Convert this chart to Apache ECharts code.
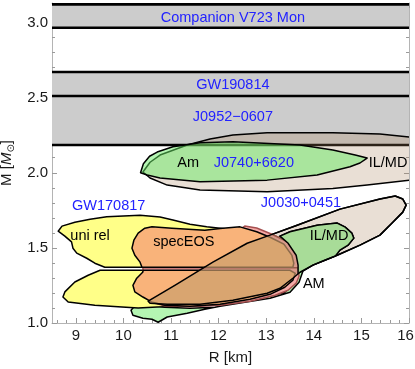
<!DOCTYPE html>
<html><head><meta charset="utf-8">
<script src="https://cdn.jsdelivr.net/npm/echarts@6/dist/echarts.min.js"></script>
<style>html,body{margin:0;padding:0;background:#fff}#c{width:415px;height:369px}</style>
</head><body><div id="c"></div>
<script>
// ---- axes ----
const xRange = [8.5, 16];
const yRange = [1.0, 3.13];
const xTicks = [9, 10, 11, 12, 13, 14, 15, 16];
const yTicks = [1.0, 1.5, 2.0, 2.5, 3.0];
const xMinorTicks = [8.6, 8.8, 9.2, 9.4, 9.6, 9.8, 10.2, 10.4, 10.6, 10.8, 11.2, 11.4, 11.6, 11.8, 12.2, 12.4, 12.6, 12.8, 13.2, 13.4, 13.6, 13.8, 14.2, 14.4, 14.6, 14.8, 15.2, 15.4, 15.6, 15.8];
const yMinorTicks = [1.1, 1.2, 1.3, 1.4, 1.6, 1.7, 1.8, 1.9, 2.1, 2.2, 2.3, 2.4, 2.6, 2.7, 2.8, 2.9, 3.1];

// ---- horizontal mass bands [low, high] ----
const bandCompanion = [2.965, 3.121];
const bandGW190814 = [2.511, 2.671];
const bandJ0952 = [2.185, 2.521];

// ---- contours [R, M] ----
const j0740ILMD = [[10.41,2.005],[10.56,2.07],[10.77,2.118],[11.34,2.185],[11.82,2.225],[12.30,2.251],[13.02,2.267],[14.40,2.267],[15.39,2.258],[16.02,2.238],[16.3,2.22],[16.3,1.95],[16.02,1.951],[15.12,1.918],[14.40,1.896],[13.02,1.873],[11.61,1.885],[10.92,1.918],[10.56,1.965]];
const j0740Am = [[10.36,2.0],[10.42,2.06],[10.55,2.11],[10.71,2.138],[11.04,2.173],[11.61,2.20],[12.30,2.207],[13.71,2.185],[14.40,2.151],[14.87,2.118],[15.12,2.098],[14.97,2.065],[14.76,2.04],[14.07,1.985],[13.02,1.951],[11.61,1.94],[10.77,1.965],[10.50,1.985]];
const gwUniRelHeavy = [[8.63,1.611],[8.71,1.645],[8.98,1.671],[9.30,1.691],[9.65,1.707],[10.35,1.718],[10.77,1.705],[11.04,1.685],[11.40,1.658],[11.75,1.64],[12.03,1.631],[12.45,1.618],[12.76,1.591],[12.91,1.518],[12.91,1.371],[9.61,1.371],[9.40,1.398],[9.23,1.431],[9.02,1.465],[8.94,1.498],[8.91,1.54],[8.77,1.578]];
const gwUniRelLight = [[9.51,1.351],[12.91,1.351],[13.12,1.298],[13.08,1.218],[12.66,1.165],[12.03,1.131],[11.40,1.111],[10.71,1.107],[10.31,1.10],[9.97,1.107],[9.40,1.118],[8.84,1.14],[8.73,1.173],[8.77,1.207],[8.98,1.273],[9.26,1.318]];
const gwRedHeavy = [[10.5,1.368],[10.5,1.58],[12.30,1.59],[12.55,1.645],[12.80,1.632],[13.12,1.591],[13.46,1.538],[13.65,1.451],[13.69,1.368]];
const gwRedLight = [[10.41,1.368],[13.67,1.368],[13.69,1.311],[13.63,1.265],[13.46,1.218],[13.19,1.185],[12.66,1.145],[12.03,1.118],[11.40,1.108],[10.87,1.115],[10.56,1.14],[10.45,1.2],[10.41,1.3]];
const gwSpecHeavy = [[10.39,1.371],[10.35,1.405],[10.24,1.451],[10.18,1.498],[10.22,1.551],[10.31,1.598],[10.45,1.631],[10.60,1.64],[11.02,1.631],[11.71,1.618],[12.03,1.629],[12.45,1.64],[12.80,1.607],[13.08,1.571],[13.37,1.525],[13.54,1.451],[13.58,1.398],[13.56,1.371]];
const gwSpecLight = [[10.41,1.351],[13.50,1.351],[13.61,1.331],[13.56,1.285],[13.39,1.238],[13.08,1.191],[12.66,1.158],[12.03,1.125],[11.40,1.111],[10.87,1.118],[10.59,1.14],[10.41,1.173],[10.24,1.207],[10.20,1.251],[10.28,1.298],[10.41,1.34]];
const j0030AM = [[13.29,1.578],[13.50,1.607],[14.07,1.651],[14.49,1.665],[14.66,1.638],[14.80,1.598],[14.84,1.565],[14.72,1.518],[14.55,1.485],[14.45,1.445],[14.23,1.418],[13.98,1.385],[13.77,1.345],[13.69,1.271],[13.50,1.205],[13.08,1.165],[12.55,1.138],[12.03,1.111],[11.71,1.091],[11.34,1.065],[10.92,1.04],[10.73,1.005],[10.60,1.025],[10.41,1.031],[10.20,1.051],[10.16,1.085],[10.29,1.131],[10.56,1.125],[10.87,1.105],[11.40,1.098],[11.92,1.105],[12.45,1.138],[12.97,1.171],[13.39,1.205],[13.58,1.258],[13.67,1.325],[13.67,1.385],[13.63,1.451],[13.46,1.531]];
const j0030ILMD = [[10.52,1.145],[11.08,1.251],[11.88,1.405],[12.60,1.531],[13.08,1.585],[13.65,1.651],[14.55,1.758],[15.39,1.825],[15.71,1.845],[15.87,1.825],[15.94,1.785],[15.87,1.738],[15.66,1.671],[15.39,1.585],[14.97,1.518],[14.49,1.451],[13.98,1.385],[13.71,1.338],[13.56,1.298],[13.29,1.231],[13.02,1.198],[12.30,1.151],[11.61,1.125],[10.92,1.125],[10.56,1.131]];

// ---- text labels [text, R, M] ----
const blueLabels = [["Companion V723 Mon",12.30,3.031],["GW190814",12.30,2.585],["J0952\u22120607",12.30,2.371],["J0740+6620",12.74,2.068],["GW170817",9.69,1.778],["J0030+0451",13.73,1.80]];
const blackLabels = [["Am",11.36,2.068],["IL/MD",15.56,2.068],["uni rel",9.30,1.578],["specEOS",11.27,1.538],["IL/MD",14.32,1.578],["AM",14.0,1.258]];

const FONT = 'Liberation Sans, Arial, sans-serif';

function polySeries(pts, fill, stroke, lw) {
  return {
    type: 'custom', clip: true, silent: true, animation: false,
    xAxisIndex: 0, yAxisIndex: 0,
    data: [pts[0]],
    renderItem: function (params, api) {
      const points = pts.map(p => api.coord(p));
      return { type: 'polygon', shape: { points: points }, style: { fill: fill, stroke: stroke, lineWidth: lw, lineJoin: 'round' } };
    }
  };
}

// shapes redrawn in an overlap colour, clipped to the J0030 IL/MD contour
function overlapSeries(items) {
  return {
    type: 'custom', clip: true, silent: true, animation: false,
    xAxisIndex: 0, yAxisIndex: 0,
    data: [j0030ILMD[0]],
    renderItem: function (params, api) {
      const clipPts = j0030ILMD.map(p => api.coord(p));
      return {
        type: 'group',
        children: items.map(it => ({
          type: 'polygon',
          shape: { points: it[0].map(p => api.coord(p)) },
          style: { fill: it[1], stroke: it[2], lineWidth: 1.5 },
          clipPath: { type: 'polygon', shape: { points: clipPts } }
        }))
      };
    }
  };
}

function bandSeries(band) {
  return {
    type: 'custom', clip: true, silent: true, animation: false,
    xAxisIndex: 0, yAxisIndex: 0,
    data: [band],
    renderItem: function (params, api) {
      const a = api.coord([xRange[0], band[1]]);
      const b = api.coord([xRange[1], band[0]]);
      return {
        type: 'group', children: [
          { type: 'rect', shape: { x: a[0], y: a[1], width: b[0] - a[0], height: b[1] - a[1] }, style: { fill: '#cccccc' } },
          { type: 'line', shape: { x1: a[0], y1: a[1], x2: b[0], y2: a[1] }, style: { stroke: '#000', lineWidth: 2.6 } },
          { type: 'line', shape: { x1: a[0], y1: b[1], x2: b[0], y2: b[1] }, style: { stroke: '#000', lineWidth: 2.6 } }
        ]
      };
    }
  };
}

function textSeries(list, color) {
  return {
    type: 'custom', clip: false, silent: true, animation: false,
    xAxisIndex: 0, yAxisIndex: 0, z: 10,
    data: list.map(l => [l[1], l[2]]),
    renderItem: function (params, api) {
      const l = list[params.dataIndex];
      const p = api.coord([l[1], l[2]]);
      return { type: 'text', x: p[0], y: p[1], style: { text: l[0], fill: color, font: '14.5px ' + FONT, align: 'center', verticalAlign: 'middle' } };
    }
  };
}

const tickColor = '#9a9a9a';
function xAx(pos, ticks, len, main) {
  return {
    type: 'value', min: xRange[0], max: xRange[1], position: pos,
    axisLine: { show: main, onZero: false, lineStyle: { color: '#b4b4b4', width: 1 } },
    axisTick: { show: true, inside: true, length: len, customValues: ticks, lineStyle: { color: tickColor } },
    axisLabel: { show: main && pos === 'bottom', customValues: xTicks, margin: 5, fontSize: 15, color: '#1a1a1a', fontFamily: FONT,
      formatter: v => v === xRange[1] ? '{r|' + v + '}' : String(v),
      rich: { r: { fontSize: 15, color: '#1a1a1a', fontFamily: FONT, padding: [0, 7, 0, 0] } } },
    splitLine: { show: false },
    name: (main && pos === 'bottom') ? 'R [km]' : '', nameLocation: 'middle', nameGap: 27,
    nameTextStyle: { fontSize: 15, color: '#1a1a1a', fontFamily: FONT }
  };
}
function yAx(pos, ticks, len, main) {
  return {
    type: 'value', min: yRange[0], max: yRange[1], position: pos,
    axisLine: { show: main, onZero: false, lineStyle: { color: '#b4b4b4', width: 1 } },
    axisTick: { show: true, inside: true, length: len, customValues: ticks, lineStyle: { color: tickColor } },
    axisLabel: { show: main && pos === 'left', customValues: yTicks, margin: 4, fontSize: 15, color: '#1a1a1a', fontFamily: FONT, formatter: v => v.toFixed(1) },
    splitLine: { show: false },
    name: (main && pos === 'left') ? '{a|M [}{i|M}{s|\u2299}{a|]}' : '', nameLocation: 'middle', nameGap: 32, nameRotate: 90,
    nameTextStyle: { fontSize: 15, color: '#1a1a1a', fontFamily: FONT,
      rich: { a: { fontSize: 15, fontFamily: FONT, color: '#1a1a1a' }, i: { fontSize: 15, fontStyle: 'italic', fontFamily: FONT, color: '#1a1a1a' }, s: { fontSize: 10, fontFamily: 'DejaVu Sans', color: '#1a1a1a', padding: [9, 0, 0, 0] } } }
  };
}

const BEIGE_A = 'rgba(171,131,91,0.26)';
const GREEN_A = 'rgba(105,235,101,0.5)';

const chart = echarts.init(document.getElementById('c'), null, { renderer: 'canvas' });
chart.setOption({
  animation: false,
  grid: { left: 52, right: 6, top: 3, bottom: 46, containLabel: false, outerBoundsMode: 'none' },
  xAxis: [xAx('bottom', xTicks, 5, true), xAx('bottom', xMinorTicks, 3, false), xAx('top', xTicks, 5, true), xAx('top', xMinorTicks, 3, false)],
  yAxis: [yAx('left', yTicks, 5, true), yAx('left', yMinorTicks, 3, false), yAx('right', yTicks, 5, true), yAx('right', yMinorTicks, 3, false)],
  series: [
    bandSeries(bandJ0952),
    bandSeries(bandGW190814),
    bandSeries(bandCompanion),
    polySeries(j0740ILMD, BEIGE_A, '#000', 1.5),
    polySeries(j0740Am, GREEN_A, '#000', 1.5),
    polySeries(j0030ILMD, '#e9dfd5', '#000', 1.5),
    polySeries(j0030AM, GREEN_A, '#000', 1.5),
    polySeries(gwUniRelHeavy, '#ffff88', '#000', 1.5),
    polySeries(gwUniRelLight, '#ffff88', '#000', 1.5),
    polySeries(gwRedHeavy, '#f5aaa6', '#a65050', 1.5),
    polySeries(gwRedLight, '#f5aaa6', '#a65050', 1.5),
    polySeries(gwSpecHeavy, '#f9b37a', '#000', 1.5),
    polySeries(gwSpecLight, '#f9b37a', '#000', 1.5),
    overlapSeries([
      [gwUniRelHeavy, '#e2db7a', '#000'],
      [gwUniRelLight, '#e2db7a', '#000'],
      [gwRedHeavy, '#d99a8a', '#9a5a4a'],
      [gwRedLight, '#d99a8a', '#9a5a4a'],
      [gwSpecHeavy, '#d9a570', '#8a6a4a'],
      [gwSpecLight, '#d9a570', '#8a6a4a'],
      [j0030AM, '#a8dc98', '#000']
    ]),
    polySeries(j0030ILMD, 'none', '#000', 1.5),
    textSeries(blueLabels, '#2222ff'),
    textSeries(blackLabels, '#000')
  ]
});
</script></body></html>
